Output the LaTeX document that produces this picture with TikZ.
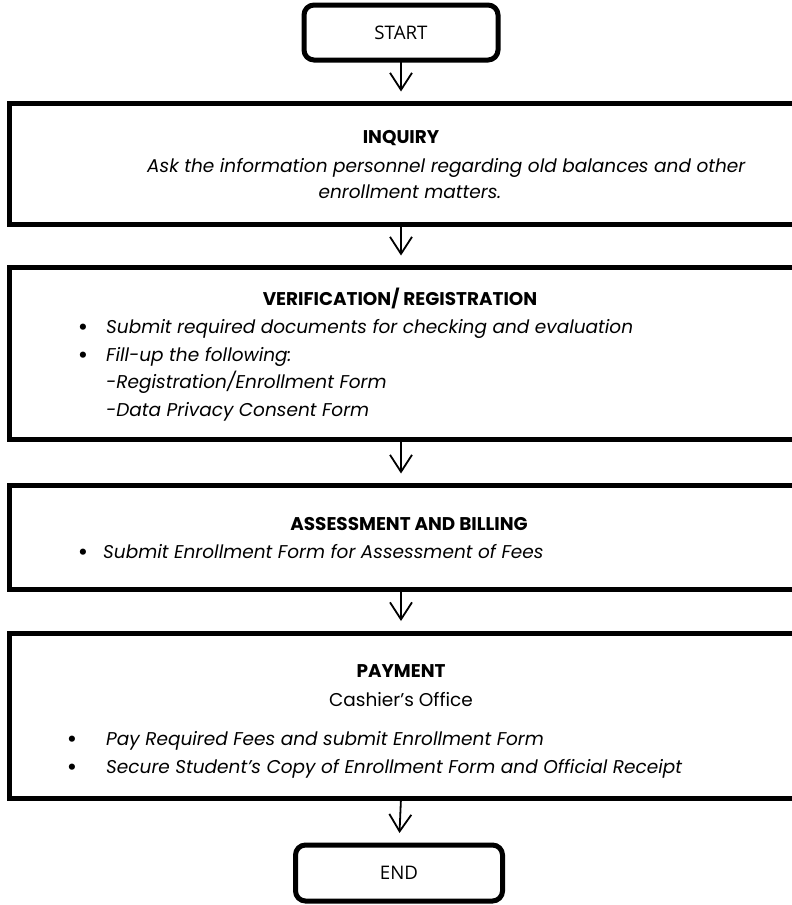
\documentclass[tikz,border=0pt]{standalone}
\usepackage{fontspec}
\setmainfont{Poppins}
\newfontfamily\termfont{Open Sans}
\usetikzlibrary{arrows.meta}
\begin{document}
\begin{tikzpicture}[x=1pt,y=-1pt,
  box/.style={draw, line width=5pt, anchor=north west, inner sep=0pt, outer sep=0pt},
  term/.style={draw, line width=5pt, rounded corners=10pt, anchor=north west, inner sep=0pt, outer sep=0pt, font=\termfont\fontsize{18.7}{22}\selectfont},
  flow/.style={line width=1.8pt, -{Straight Barb[length=17pt,width=22pt,line width=1.8pt]}, shorten >=12pt},
  ttl/.style={font=\fontsize{18.4}{22}\selectfont\bfseries, anchor=base, inner sep=0pt},
  bi/.style={font=\fontsize{18.5}{22}\selectfont\itshape, anchor=base west, inner sep=0pt},
  bic/.style={font=\fontsize{18.5}{22}\selectfont\itshape, anchor=base, inner sep=0pt},
  up/.style={font=\fontsize{18.5}{22}\selectfont, anchor=base, inner sep=0pt},
  bul/.style={font=\fontsize{25}{25}\selectfont, anchor=base, inner sep=0pt, yshift=-2pt},
]
\useasboundingbox (0,0) rectangle (792,905);
\clip (0,0) rectangle (792,905);
\fill[white] (0,0) rectangle (792,905);

% terminals
\node[term, minimum width=194pt, minimum height=55pt] (start) at (304,5) {START};
\node[term, minimum width=207pt, minimum height=56pt] (end) at (295.5,845) {END};

% boxes
\node[box, minimum width=800pt, minimum height=121pt] (inq) at (9,103.5) {};
\node[box, minimum width=800pt, minimum height=172pt] (ver) at (9,267.5) {};
\node[box, minimum width=800pt, minimum height=104pt] (ass) at (9,485.5) {};
\node[box, minimum width=800pt, minimum height=165pt] (pay) at (9,633) {};

% inquiry text
\node[ttl] (inqT) at (401,143) {INQUIRY};
\node[bi] (inq1) at (147,172) {Ask the information personnel regarding old balances and other};
\node[bic] (inq2) at (410,198) {enrollment matters.};

% verification text
\node[ttl] (verT) at (400,305) {VERIFICATION/ REGISTRATION};
\node[bul] (vb1) at (83,333) {•};
\node[bi] (v1) at (106,333) {Submit required documents for checking and evaluation};
\node[bul] (vb2) at (83,361) {•};
\node[bi] (v2) at (106,361) {Fill-up the following:};
\node[bi] (v3) at (106,388) {-Registration/Enrollment Form};
\node[bi] (v4) at (106,416) {-Data Privacy Consent Form};

% assessment text
\node[ttl] (assT) at (409,530) {ASSESSMENT AND BILLING};
\node[bul] (ab1) at (83,558) {•};
\node[bi] (a1) at (103,558) {Submit Enrollment Form for Assessment of Fees};

% payment text
\node[ttl] (payT) at (401,677) {PAYMENT};
\node[up] (payS) at (401,706) {Cashier’s Office};
\node[bul] (pb1) at (72,745) {•};
\node[bi] (p1) at (106,745) {Pay Required Fees and submit Enrollment Form};
\node[bul] (pb2) at (72,773) {•};
\node[bi] (p2) at (106,773) {Secure Student's Copy of Enrollment Form and Official Receipt};

% connectors
\draw[flow] (start.south) -- (start.south |- inq.north);
\draw[flow] (start.south |- inq.south) -- (start.south |- ver.north);
\draw[flow] (start.south |- ver.south) -- (start.south |- ass.north);
\draw[flow] (start.south |- ass.south) -- (start.south |- pay.north);
\draw[flow] (start.south |- pay.south) -- (end.north);
\end{tikzpicture}
\end{document}
